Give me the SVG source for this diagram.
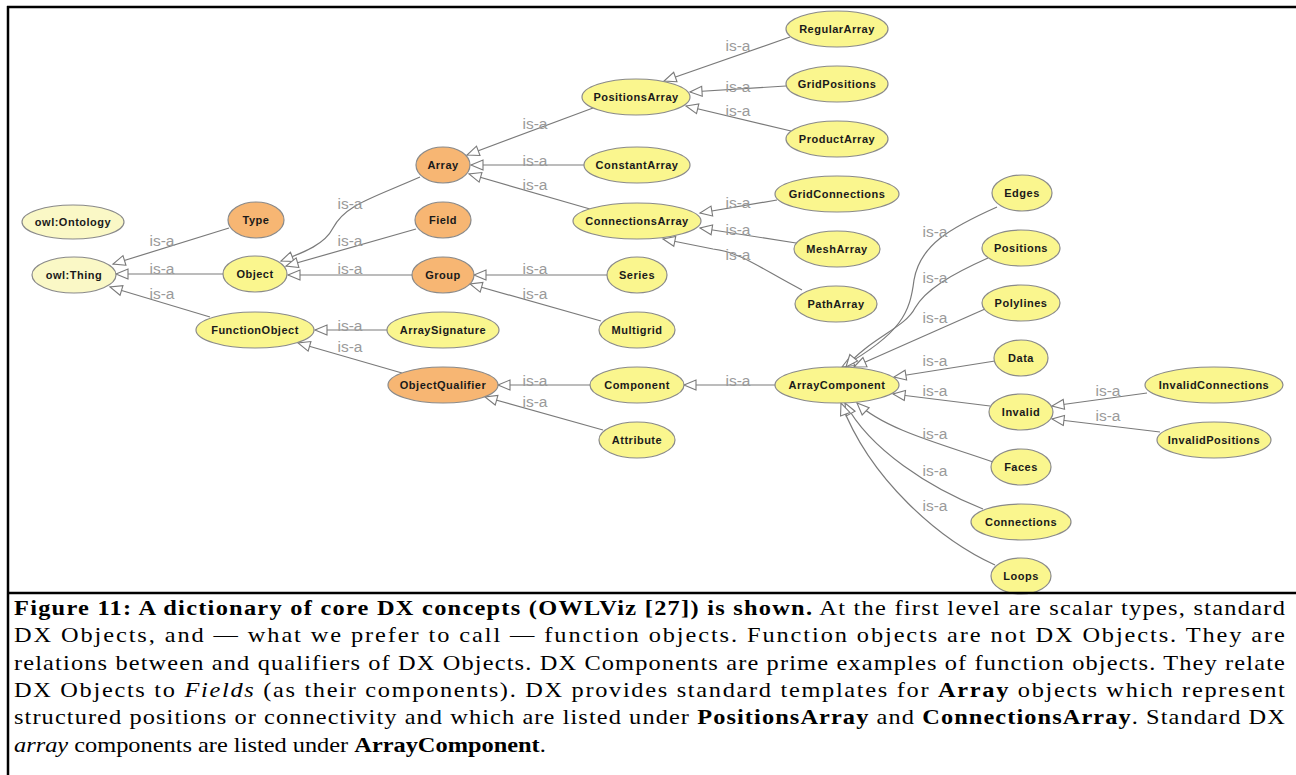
<svg xmlns="http://www.w3.org/2000/svg" width="1296" height="775" viewBox="0 0 1296 775">
<style>
.n ellipse{stroke:#8a8a8a;stroke-width:1.2}
.y ellipse{fill:#FAF68E}
.o ellipse{fill:#F7B673}
.p ellipse{fill:#FAF8C6}
.n text{font-family:"Liberation Sans",Arial,sans-serif;font-weight:bold;font-size:11px;letter-spacing:0.5px;fill:#1a1a1a;text-anchor:middle}
#edges path{fill:none;stroke:#7a7a7a;stroke-width:1.2;marker-end:url(#tri)}
#labels text{font-family:"Liberation Sans",Arial,sans-serif;font-size:15.5px;fill:#9a9a9a;text-anchor:middle}
.cap{font-family:"Liberation Serif","Times New Roman",serif;font-size:22px;fill:#000}
.b{font-weight:bold}
</style>
<defs>
<marker id="tri" viewBox="0 0 12 10" refX="12" refY="5" markerWidth="12" markerHeight="10" orient="auto" markerUnits="userSpaceOnUse" overflow="visible">
<path d="M0,0 L12,5 L0,10 z" fill="#fff" stroke="#7a7a7a" stroke-width="1.1"/>
</marker>
</defs>
<rect width="1296" height="775" fill="#fff"/>

<g id="edges">
<path d="M229,228 L113,264"/>
<path d="M223,274 L116,274"/>
<path d="M210,317 L110,287"/>
<path d="M420,177 C370,199 345,205 333,228 C325,244 305,252 281,261"/>
<path d="M416,229 L286,266"/>
<path d="M412,275 L288,275"/>
<path d="M387,330 L315,330"/>
<path d="M402,373 L298,343"/>
<path d="M593,108 L467,155"/>
<path d="M584,165 L471,165"/>
<path d="M590,209 L469,174"/>
<path d="M790,37 L664,81"/>
<path d="M786,86 L690,92"/>
<path d="M791,131 L686,106"/>
<path d="M777,200 L700,213"/>
<path d="M796,243 L700,228"/>
<path d="M802,290 C760,268 740,252 713,249 L663,239"/>
<path d="M607,275 L474,275"/>
<path d="M601,321 L470,284"/>
<path d="M590,385 L498,385"/>
<path d="M603,430 L485,397"/>
<path d="M775,385 L684,385"/>
<path d="M997,207 C950,228 920,245 914,280 C910,312 902,333 842,367"/>
<path d="M988,258 C950,275 925,290 915,308 C905,328 870,338 846,367"/>
<path d="M985,309 L854,367"/>
<path d="M995,361 L894,377"/>
<path d="M990,406 L893,394"/>
<path d="M1147,393 L1052,406"/>
<path d="M1160,432 L1052,419"/>
<path d="M993,462 C945,445 885,430 857,403"/>
<path d="M983,509 C930,488 870,450 845,403"/>
<path d="M995,565 C940,540 870,480 841,403"/>
</g>

<g id="labels">
<text x="162" y="246">is-a</text>
<text x="162" y="274">is-a</text>
<text x="162" y="299">is-a</text>
<text x="350" y="209">is-a</text>
<text x="350" y="246">is-a</text>
<text x="350" y="274">is-a</text>
<text x="350" y="331">is-a</text>
<text x="350" y="352">is-a</text>
<text x="535" y="129">is-a</text>
<text x="535" y="166">is-a</text>
<text x="535" y="190">is-a</text>
<text x="535" y="274">is-a</text>
<text x="535" y="299">is-a</text>
<text x="535" y="386">is-a</text>
<text x="535" y="407">is-a</text>
<text x="738" y="51">is-a</text>
<text x="738" y="92">is-a</text>
<text x="738" y="116">is-a</text>
<text x="738" y="208">is-a</text>
<text x="738" y="235">is-a</text>
<text x="738" y="260">is-a</text>
<text x="738" y="386">is-a</text>
<text x="935" y="237">is-a</text>
<text x="935" y="283">is-a</text>
<text x="935" y="323">is-a</text>
<text x="935" y="366">is-a</text>
<text x="935" y="396">is-a</text>
<text x="935" y="439">is-a</text>
<text x="935" y="476">is-a</text>
<text x="935" y="511">is-a</text>
<text x="1108" y="396">is-a</text>
<text x="1108" y="421">is-a</text>
</g>

<g id="owlOntology" class="n p"><ellipse cx="73" cy="222" rx="51" ry="17"/><text x="73" y="226">owl:Ontology</text></g>
<g id="owlThing" class="n p"><ellipse cx="74" cy="275" rx="42" ry="18"/><text x="74" y="279">owl:Thing</text></g>
<g id="Type" class="n o"><ellipse cx="256" cy="220" rx="28" ry="18"/><text x="256" y="224">Type</text></g>
<g id="Object" class="n y"><ellipse cx="255" cy="274" rx="32" ry="18"/><text x="255" y="278">Object</text></g>
<g id="FunctionObject" class="n y"><ellipse cx="255" cy="330" rx="59" ry="18"/><text x="255" y="334">FunctionObject</text></g>
<g id="Array" class="n o"><ellipse cx="443" cy="165" rx="27" ry="18"/><text x="443" y="169">Array</text></g>
<g id="Field" class="n o"><ellipse cx="443" cy="220" rx="28" ry="18"/><text x="443" y="224">Field</text></g>
<g id="Group" class="n o"><ellipse cx="443" cy="275" rx="31" ry="18"/><text x="443" y="279">Group</text></g>
<g id="ArraySignature" class="n y"><ellipse cx="443" cy="330" rx="56" ry="18"/><text x="443" y="334">ArraySignature</text></g>
<g id="ObjectQualifier" class="n o"><ellipse cx="443" cy="385" rx="55" ry="18"/><text x="443" y="389">ObjectQualifier</text></g>
<g id="PositionsArray" class="n y"><ellipse cx="636" cy="97" rx="54" ry="18"/><text x="636" y="101">PositionsArray</text></g>
<g id="ConstantArray" class="n y"><ellipse cx="637" cy="165" rx="53" ry="18"/><text x="637" y="169">ConstantArray</text></g>
<g id="ConnectionsArray" class="n y"><ellipse cx="637" cy="221" rx="64" ry="18"/><text x="637" y="225">ConnectionsArray</text></g>
<g id="Series" class="n y"><ellipse cx="637" cy="275" rx="30" ry="18"/><text x="637" y="279">Series</text></g>
<g id="Multigrid" class="n y"><ellipse cx="637" cy="330" rx="38" ry="18"/><text x="637" y="334">Multigrid</text></g>
<g id="Component" class="n y"><ellipse cx="637" cy="385" rx="47" ry="18"/><text x="637" y="389">Component</text></g>
<g id="Attribute" class="n y"><ellipse cx="637" cy="440" rx="38" ry="18"/><text x="637" y="444">Attribute</text></g>
<g id="RegularArray" class="n y"><ellipse cx="837" cy="29" rx="51" ry="18"/><text x="837" y="33">RegularArray</text></g>
<g id="GridPositions" class="n y"><ellipse cx="837" cy="84" rx="51" ry="18"/><text x="837" y="88">GridPositions</text></g>
<g id="ProductArray" class="n y"><ellipse cx="837" cy="139" rx="51" ry="18"/><text x="837" y="143">ProductArray</text></g>
<g id="GridConnections" class="n y"><ellipse cx="837" cy="194" rx="62" ry="18"/><text x="837" y="198">GridConnections</text></g>
<g id="MeshArray" class="n y"><ellipse cx="837" cy="249" rx="43" ry="18"/><text x="837" y="253">MeshArray</text></g>
<g id="PathArray" class="n y"><ellipse cx="836" cy="304" rx="41" ry="18"/><text x="836" y="308">PathArray</text></g>
<g id="ArrayComponent" class="n y"><ellipse cx="837" cy="385" rx="62" ry="18"/><text x="837" y="389">ArrayComponent</text></g>
<g id="Edges" class="n y"><ellipse cx="1022" cy="193" rx="30" ry="18"/><text x="1022" y="197">Edges</text></g>
<g id="Positions" class="n y"><ellipse cx="1021" cy="248" rx="39" ry="18"/><text x="1021" y="252">Positions</text></g>
<g id="Polylines" class="n y"><ellipse cx="1021" cy="303" rx="39" ry="18"/><text x="1021" y="307">Polylines</text></g>
<g id="Data" class="n y"><ellipse cx="1021" cy="358" rx="27" ry="18"/><text x="1021" y="362">Data</text></g>
<g id="Invalid" class="n y"><ellipse cx="1021" cy="412" rx="32" ry="18"/><text x="1021" y="416">Invalid</text></g>
<g id="InvalidConnections" class="n y"><ellipse cx="1214" cy="385" rx="69" ry="18"/><text x="1214" y="389">InvalidConnections</text></g>
<g id="InvalidPositions" class="n y"><ellipse cx="1214" cy="440" rx="57" ry="18"/><text x="1214" y="444">InvalidPositions</text></g>
<g id="Faces" class="n y"><ellipse cx="1021" cy="467" rx="30" ry="18"/><text x="1021" y="471">Faces</text></g>
<g id="Connections" class="n y"><ellipse cx="1021" cy="522" rx="50" ry="18"/><text x="1021" y="526">Connections</text></g>
<g id="Loops" class="n y"><ellipse cx="1021" cy="576" rx="30" ry="18"/><text x="1021" y="580">Loops</text></g>

<g id="frame" stroke="#000" stroke-width="2.5" fill="none">
<line x1="7" y1="7" x2="1296" y2="7"/>
<line x1="8" y1="6" x2="8" y2="775"/>
<line x1="7" y1="593" x2="1296" y2="593"/>
</g>

<g id="caption" class="cap" transform="translate(14,0) scale(1.108,1)">
<text x="0" y="615" textLength="1147" lengthAdjust="spacing"><tspan class="b">Figure 11: A dictionary of core DX concepts (OWLViz [27]) is shown.</tspan> At the first level are scalar types, standard</text>
<text x="0" y="642" textLength="1147" lengthAdjust="spacing">DX Objects, and — what we prefer to call — function objects. Function objects are not DX Objects. They are</text>
<text x="0" y="670" textLength="1147" lengthAdjust="spacing">relations between and qualifiers of DX Objects. DX Components are prime examples of function objects. They relate</text>
<text x="0" y="697" textLength="1147" lengthAdjust="spacing">DX Objects to <tspan font-style="italic">Fields</tspan> (as their components). DX provides standard templates for <tspan class="b">Array</tspan> objects which represent</text>
<text x="0" y="724" textLength="1147" lengthAdjust="spacing">structured positions or connectivity and which are listed under <tspan class="b">PositionsArray</tspan> and <tspan class="b">ConnectionsArray</tspan>. Standard DX</text>
<text x="0" y="752"><tspan font-style="italic">array</tspan> components are listed under <tspan class="b">ArrayComponent</tspan>.</text>
</g>
</svg>
